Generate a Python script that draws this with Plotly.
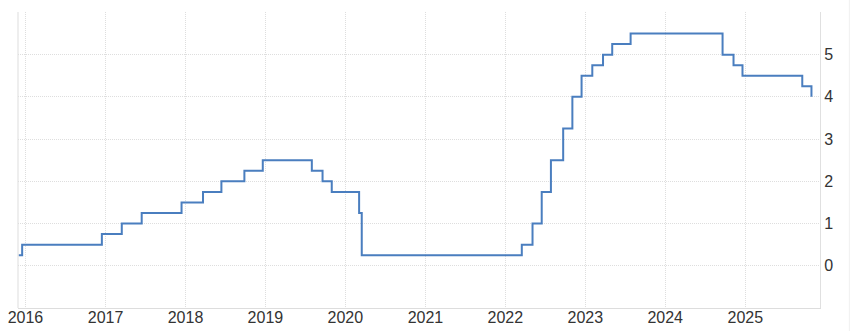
import plotly.graph_objects as go

# Policy rate (upper bound), step changes
dates = [
    "2015-12-01", "2015-12-17", "2016-12-15", "2017-03-16", "2017-06-15",
    "2017-12-14", "2018-03-22", "2018-06-14", "2018-09-27", "2018-12-20",
    "2019-08-01", "2019-09-19", "2019-10-31", "2020-03-04", "2020-03-16",
    "2022-03-17", "2022-05-05", "2022-06-16", "2022-07-28", "2022-09-22",
    "2022-11-03", "2022-12-15", "2023-02-02", "2023-03-23", "2023-05-04",
    "2023-07-27", "2024-09-19", "2024-11-08", "2024-12-19", "2025-09-18",
    "2025-10-30",
]
rates = [
    0.25, 0.50, 0.75, 1.00, 1.25,
    1.50, 1.75, 2.00, 2.25, 2.50,
    2.25, 2.00, 1.75, 1.25, 0.25,
    0.50, 1.00, 1.75, 2.50, 3.25,
    4.00, 4.50, 4.75, 5.00, 5.25,
    5.50, 5.00, 4.75, 4.50, 4.25,
    4.00,
]
year_ticks = [f"{y}-01-01" for y in range(2016, 2026)]
year_labels = [str(y) for y in range(2016, 2026)]
y_ticks = [0, 1, 2, 3, 4, 5, 6]
y_labels = ["0", "1", "2", "3", "4", "5", ""]

fig = go.Figure()
fig.add_trace(go.Scatter(
    x=dates, y=rates, mode="lines", line_shape="hv",
    line=dict(color="#4a7ebf", width=2), hoverinfo="x+y",
))

font = dict(family="Liberation Sans, Arial, sans-serif", size=16, color="#333333")
grid = "#dedede"
fig.update_layout(
    width=854, height=331,
    margin=dict(l=18, r=34, t=12, b=23),
    paper_bgcolor="white", plot_bgcolor="white",
    showlegend=False,
    font=font,
    xaxis=dict(
        range=["2015-11-28", "2025-12-08"],
        tickvals=year_ticks, ticktext=year_labels,
        showgrid=True, gridcolor=grid, griddash="1px,1px", gridwidth=1,
        showline=True, linecolor="#dddddd", linewidth=1,
        ticks="", zeroline=False, tickfont=font, automargin=False,
        ticklabelstandoff=-5,
    ),
    yaxis=dict(
        range=[-1, 6.01], side="right",
        tickvals=y_ticks, ticktext=y_labels,
        showgrid=True, gridcolor=grid, griddash="1px,1px", gridwidth=1,
        showline=True, linecolor="#e0e0e0", linewidth=1,
        ticks="", zeroline=False, tickfont=font, automargin=False,
    ),
)
# left border line and faint far-right line
fig.add_shape(type="line", xref="paper", yref="paper", x0=0, x1=0, y0=0, y1=1,
              line=dict(color="#dddddd", width=1))
fig.add_shape(type="line", xref="paper", yref="paper", x0=1.0366, x1=1.0366, y0=-0.08, y1=1.05,
              line=dict(color="#f0f0f0", width=1))

fig.write_html("out.html")
